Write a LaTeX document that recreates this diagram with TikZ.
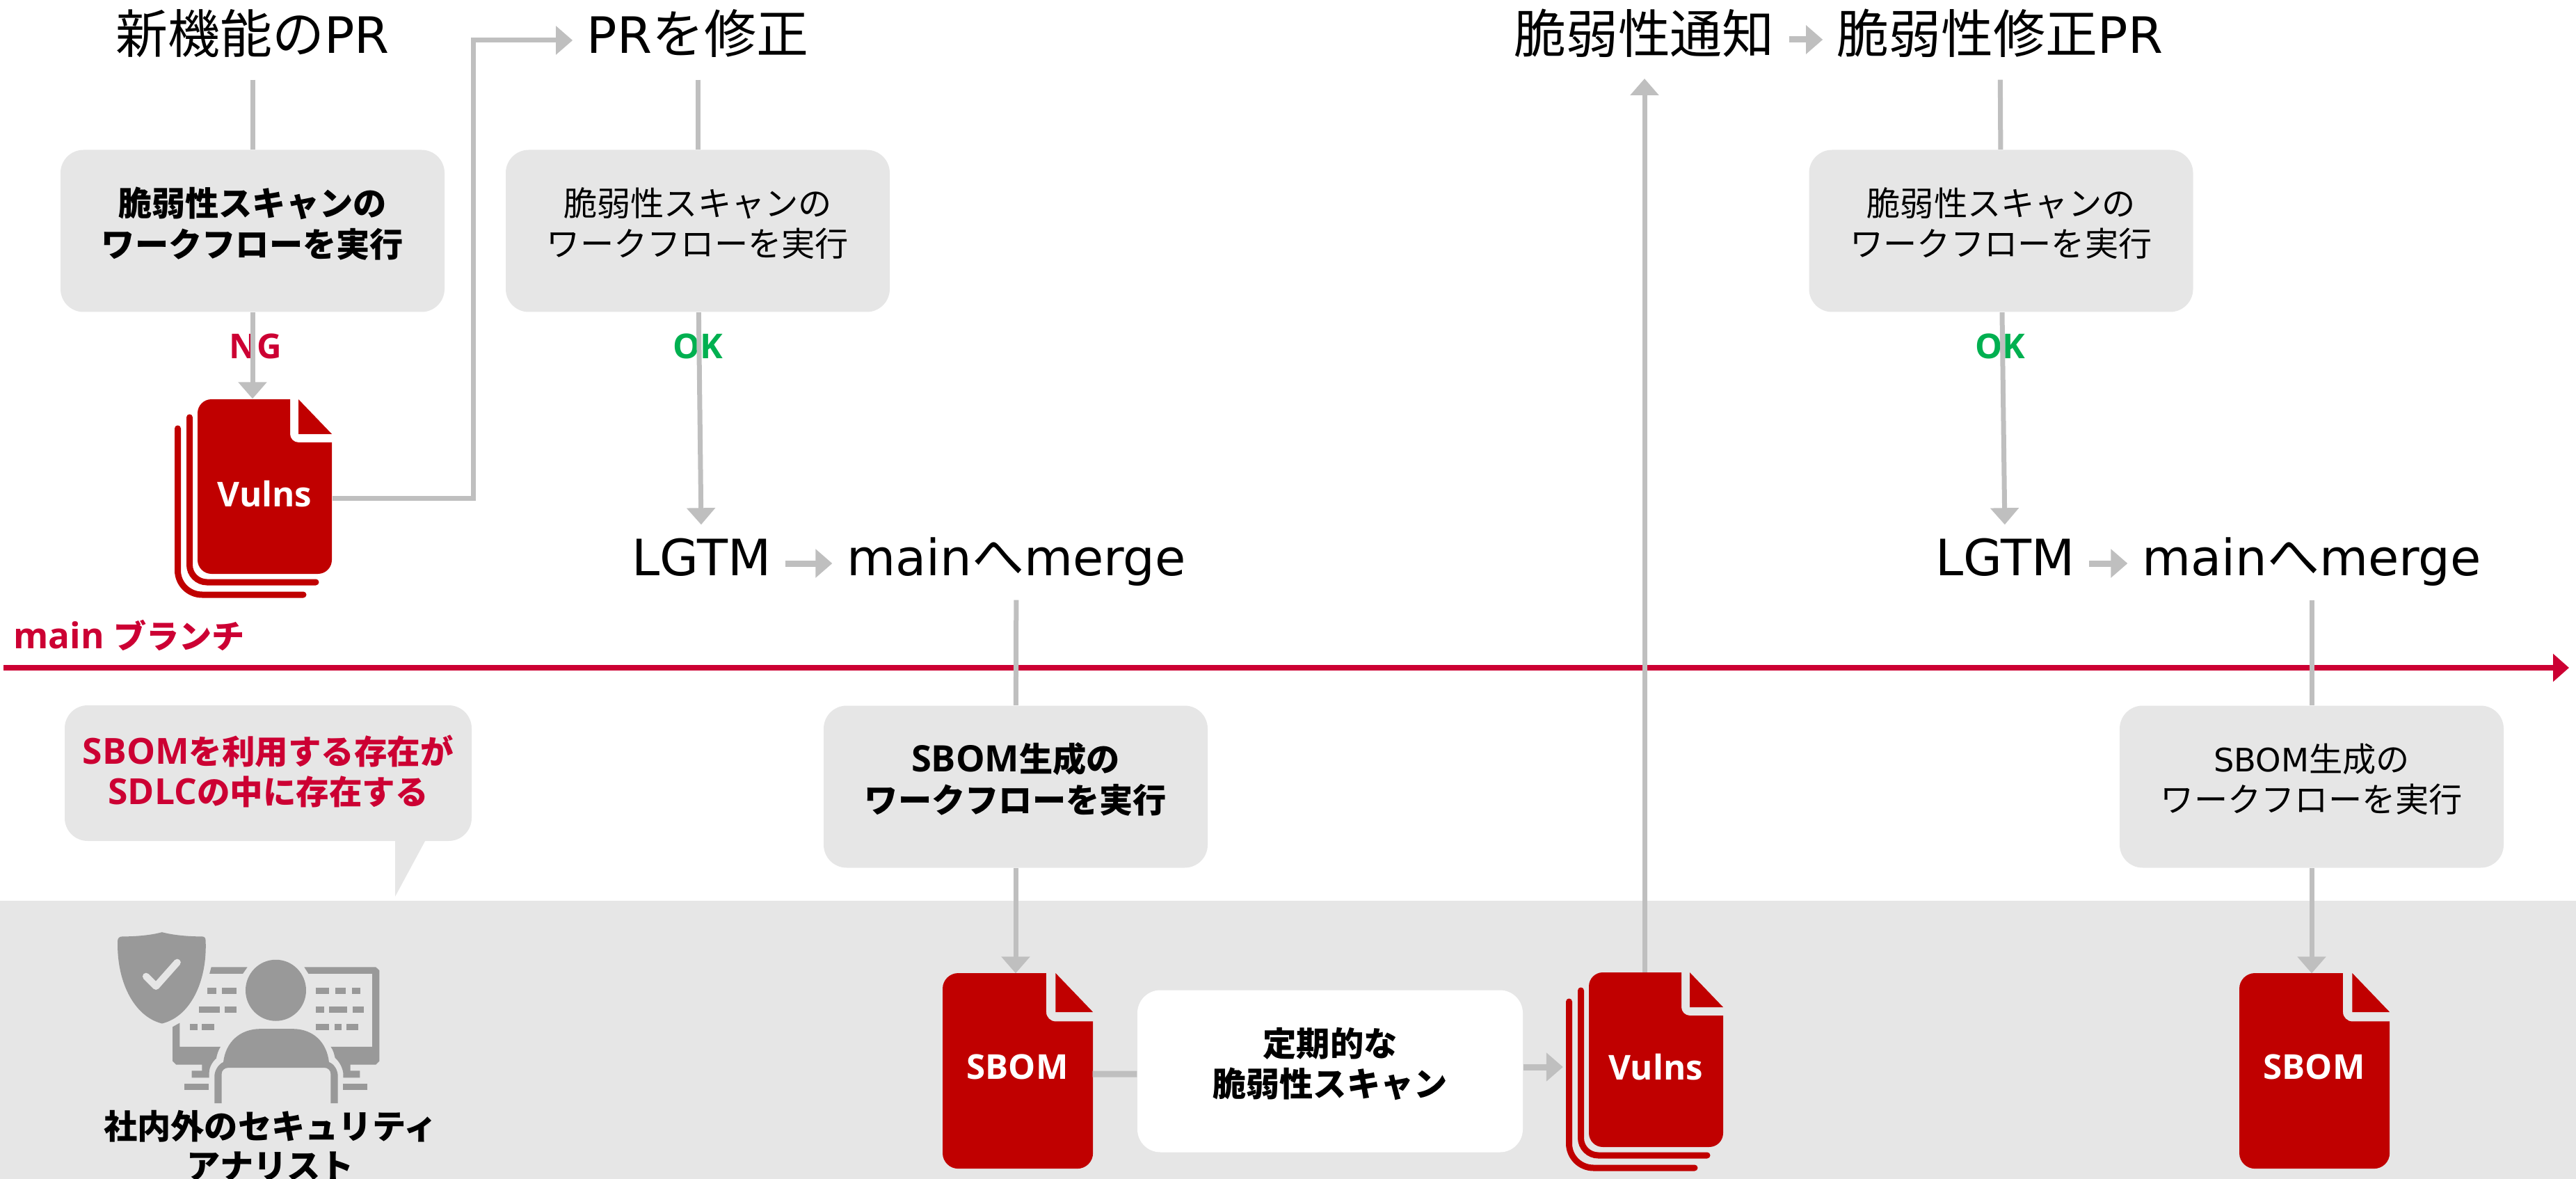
\documentclass[tikz,border=0pt]{standalone}
\usepackage{fontspec}
\setmainfont{DejaVu Sans}
\newfontfamily\boldlatin[Scale=1.13]{Open Sans}
\newfontfamily\cjkfont[Scale=1.04]{Noto Sans CJK JP}
\newcommand{\jp}[1]{{\cjkfont #1}}
\usetikzlibrary{arrows.meta}
\usetikzlibrary{calc}
\definecolor{boxgray}{HTML}{E6E6E6}
\definecolor{linegray}{HTML}{BFBFBF}
\definecolor{docred}{HTML}{C00000}
\definecolor{mainred}{HTML}{CC0033}
\definecolor{okgreen}{HTML}{00B050}
\definecolor{icongray}{HTML}{999999}
\tikzset{
	align=center,
	head/.style={
		font=\fontsize{20.5}{24}\selectfont,
		minimum height=1.2cm,
		inner xsep=0.2cm,
		inner ysep=0pt,
		text height=0.6cm,
		text depth=0.15cm,
	},
	job/.style={
		fill=boxgray,
		rounded corners=0.33cm,
		minimum width=5.52cm,
		minimum height=2.33cm,
		text depth=0.26cm,
		font=\fontsize{13.2}{16.6}\selectfont,
	},
	jobbold/.style={
		job,
		font=\fontsize{13.2}{16.6}\selectfont\boldlatin\bfseries,
	},
	verdict/.style={
		font=\fontsize{12.4}{15}\selectfont\boldlatin\bfseries,
	},
	sheetlabel/.style={
		text=white,
		inner sep=0pt,
		font=\fontsize{12.4}{15}\selectfont\boldlatin\bfseries,
	},
	flow/.style={
		draw=linegray,
		line width=0.07cm,
	},
	flowarrow/.style={
		flow,
		-{Triangle[width=0.4cm,length=0.24cm,fill=linegray]},
	},
	fatarrow/.style={
		flowarrow,
		line width=0.09cm,
	},
	sheet/.pic={
		\fill[docred] (0,-0.2) arc[start angle=180,end angle=90,radius=0.2]
			-- (1.33,0) -- (1.33,-0.5) arc[start angle=180,end angle=270,radius=0.12]
			-- (1.93,-0.62) -- (1.93,-2.31) arc[start angle=0,end angle=-90,radius=0.2]
			-- (0.2,-2.51) arc[start angle=270,end angle=180,radius=0.2] -- cycle;
		\fill[docred] (1.45,0) -- (1.93,-0.5) -- (1.45,-0.5) -- cycle;
	},
	sheetstack/.pic={
		\pic {sheet};
		\draw[docred,line width=0.09cm,line cap=round,rounded corners=0.25cm] (-0.115,-0.26) -- (-0.115,-2.63) -- (1.70,-2.63);
		\draw[docred,line width=0.09cm,line cap=round,rounded corners=0.35cm] (-0.285,-0.42) -- (-0.285,-2.81) -- (1.52,-2.81);
	},
}

\begin{document}
\begin{tikzpicture}
	\useasboundingbox (0,0) rectangle (37.03,-16.95);

	\fill[boxgray] (0,-12.95) rectangle (37.03,-16.95);

	\coordinate (M0) at (0.05,-9.6);
	\coordinate (M1) at (36.93,-9.6);
	\draw[mainred,line width=0.08cm,-{Triangle[width=0.39cm,length=0.23cm,fill=mainred]}] (M0) -- (M1);
	\node[text=mainred,font=\fontsize{12.9}{15}\selectfont\boldlatin\bfseries] (MB) at (1.855,-9.13) {main \jp{ブランチ}};

	% first PR
	\node[head] (H1) at (3.63,-0.54) {\jp{新機能の}PR};
	\node[head] (H2) at (10.03,-0.54) {PR\jp{を修正}};
	\node[jobbold] (B1) at (3.63,-3.32) {\jp{脆弱性スキャンの}\\\jp{ワークフローを実行}};
	\node[job] (B2) at (10.03,-3.32) {\jp{脆弱性スキャンの}\\\jp{ワークフローを実行}};
	\node[verdict,text=mainred] (NG) at (3.67,-4.98) {NG};
	\node[verdict,text=okgreen] (OK1) at (10.03,-4.98) {OK};
	\node[head,minimum height=1.0cm] (L1) at (10.085,-8.05) {LGTM};
	\node[head,minimum height=1.14cm] (M2) at (14.61,-8.05) {main\jp{へ}merge};

	\pic at (2.84,-5.74) {sheetstack};
	\node[sheetlabel,minimum width=1.93cm,minimum height=2.72cm] (V1) at (3.805,-7.1) {Vulns};

	% scan of the main branch
	\node[jobbold] (B3) at (14.6,-11.31) {SBOM\jp{生成の}\\\jp{ワークフローを実行}};
	\pic[scale=1.12] at (13.55,-13.99) {sheet};
	\node[sheetlabel,minimum width=2.15cm,minimum height=2.68cm] (S1) at (14.625,-15.34) {SBOM};
	\node[jobbold,fill=white,minimum width=5.54cm] (P1) at (19.12,-15.40) {\jp{定期的な}\\\jp{脆弱性スキャン}};
	\pic at (22.84,-13.98) {sheetstack};
	\node[sheetlabel,minimum width=1.93cm,minimum height=2.7cm] (V2) at (23.80,-15.34) {Vulns};
	\coordinate (T1) at (23.64,-1.13);

	% fix
	\node[head] (H3) at (23.635,-0.54) {\jp{脆弱性通知}};
	\node[head] (H4) at (28.75,-0.54) {\jp{脆弱性修正}PR};
	\node[job] (B4) at (28.765,-3.32) {\jp{脆弱性スキャンの}\\\jp{ワークフローを実行}};
	\node[verdict,text=okgreen] (OK2) at (28.75,-4.98) {OK};
	\node[head,minimum height=1.0cm] (L2) at (28.825,-8.05) {LGTM};
	\node[head,minimum height=1.14cm] (M3) at (33.23,-8.05) {main\jp{へ}merge};
	\node[job] (B5) at (33.23,-11.31) {SBOM\jp{生成の}\\\jp{ワークフローを実行}};
	\pic[scale=1.12] at (32.19,-13.99) {sheet};
	\node[sheetlabel,minimum width=2.15cm,minimum height=2.68cm] (S2) at (33.265,-15.34) {SBOM};

	% speech bubble
	\fill[boxgray] (5.68,-12.0) -- (5.68,-12.89) -- (6.16,-12.0) -- cycle;
	\node[jobbold,minimum width=5.85cm,minimum height=1.95cm,text=mainred,text depth=0.1cm,font=\fontsize{13}{16.6}\selectfont\boldlatin\bfseries] (SP) at (3.855,-11.115) {SBOM\jp{を利用する存在が}\\SDLC\jp{の中に存在する}};

	\draw[flow] (H1) -- (B1);
	\draw[flow] (H2) -- (B2);
	\draw[flow] (H4) -- (B4);
	\draw[flowarrow] (B1) -- (B1.south |- V1.north);
	\draw[flowarrow] (B2) -- (L1);
	\draw[flowarrow] (B4) -- (L2);
	\draw[flowarrow] ([yshift=-0.06cm]V1.east) -- ++(2.03,0) |- ([yshift=-0.04cm]H2.west);
	\draw[fatarrow] ([yshift=-0.05cm]L1.east) -- ([yshift=-0.05cm]M2.west);
	\draw[fatarrow] ([yshift=-0.05cm]L2.east) -- ([yshift=-0.05cm]M3.west);
	\draw[fatarrow] ([yshift=-0.03cm]H3.east) -- ([yshift=-0.03cm]H4.west);
	\draw[flow] (M2) -- (B3);
	\draw[flow] (M3) -- (B5);
	\draw[flowarrow] (B3) -- (B3.south |- S1.north);
	\draw[flowarrow] (B5) -- (B5.south |- S2.north);
	\draw[fatarrow,-] ([yshift=-0.10cm]S1.east) -- ([yshift=-0.04cm]P1.west);
	\draw[fatarrow] ([yshift=0.06cm]P1.east) -- ([xshift=-0.36cm]V2.west);
	\draw[flowarrow] (V2.north -| T1) -- (T1);

	% analyst icon
	\begin{scope}[shift={(0,-9.5)},x=0.0051cm,y=-0.004776cm]
		\fill[icongray] (345,830) .. controls (390,830) and (430,825) .. (457,817)
			.. controls (485,825) and (525,830) .. (570,830)
			.. controls (577,830) and (580,835) .. (580,842)
			.. controls (585,960) and (540,1070) .. (457,1092)
			.. controls (375,1070) and (328,960) .. (332,842)
			.. controls (332,835) and (337,830) .. (345,830) -- cycle;
		\draw[boxgray,line width=0.1cm,line cap=round,line join=round] (412,950) -- (440,980) -- (500,908);
		\fill[icongray] (596,922) -- (698,922) -- (685,942) -- (591,942) -- cycle;
		\fill[icongray] (858,922) -- (1060,922) -- (1070,932) -- (1070,1205) -- (1060,1216) -- (988,1216) -- (988,1234) -- (1015,1234) -- (1015,1255) -- (968,1255)
			-- (968,1240) .. controls (965,1220) and (955,1205) .. (945,1195) .. controls (943,1185) and (940,1172) .. (933,1162)
			-- (1050,1162) -- (1050,942) -- (870,942) -- cycle;
		\fill[icongray] (507,1090) -- (507,1162) -- (622,1162) .. controls (616,1172) and (612,1185) .. (610,1197)
			.. controls (598,1208) and (590,1225) .. (590,1240) -- (590,1255) -- (541,1255) -- (541,1234) -- (570,1234) -- (570,1216) -- (497,1216) -- (487,1205) -- (487,1102) -- cycle;
		\fill[icongray] (519,1273) rectangle (589,1293);
		\fill[icongray] (968,1273) rectangle (1037,1293);
		\foreach \xa/\xb/\ya in {584/610/985,626/668/985,562/620/1040,633/668/1040,535/558/1093,570/604/1093,890/929/985,945/976/985,992/1017/985,890/915/1040,929/980/1040,995/1027/1040,890/929/1093,943/964/1093,978/1010/1093}
			\fill[icongray] (\xa,\ya) rectangle (\xb,\ya+19);
		\fill[icongray] (778,992) ellipse [x radius=0.435cm,y radius=0.44cm];
		\fill[icongray] (630,1208) .. controls (636,1150) and (675,1108) .. (735,1108) -- (825,1108)
			.. controls (885,1108) and (922,1150) .. (928,1208)
			.. controls (945,1215) and (953,1235) .. (953,1250) -- (953,1332) -- (933,1332) -- (933,1245)
			.. controls (933,1233) and (925,1225) .. (915,1225) -- (645,1225)
			.. controls (633,1225) and (625,1233) .. (625,1245) -- (625,1332) -- (605,1332) -- (605,1250)
			.. controls (605,1235) and (615,1215) .. (630,1208) -- cycle;
	\end{scope}
	\node[font=\fontsize{13.2}{16.2}\selectfont\boldlatin\bfseries] (AN) at (3.89,-16.47) {\jp{社内外のセキュリティ}\\\jp{アナリスト}};
\end{tikzpicture}
\end{document}
